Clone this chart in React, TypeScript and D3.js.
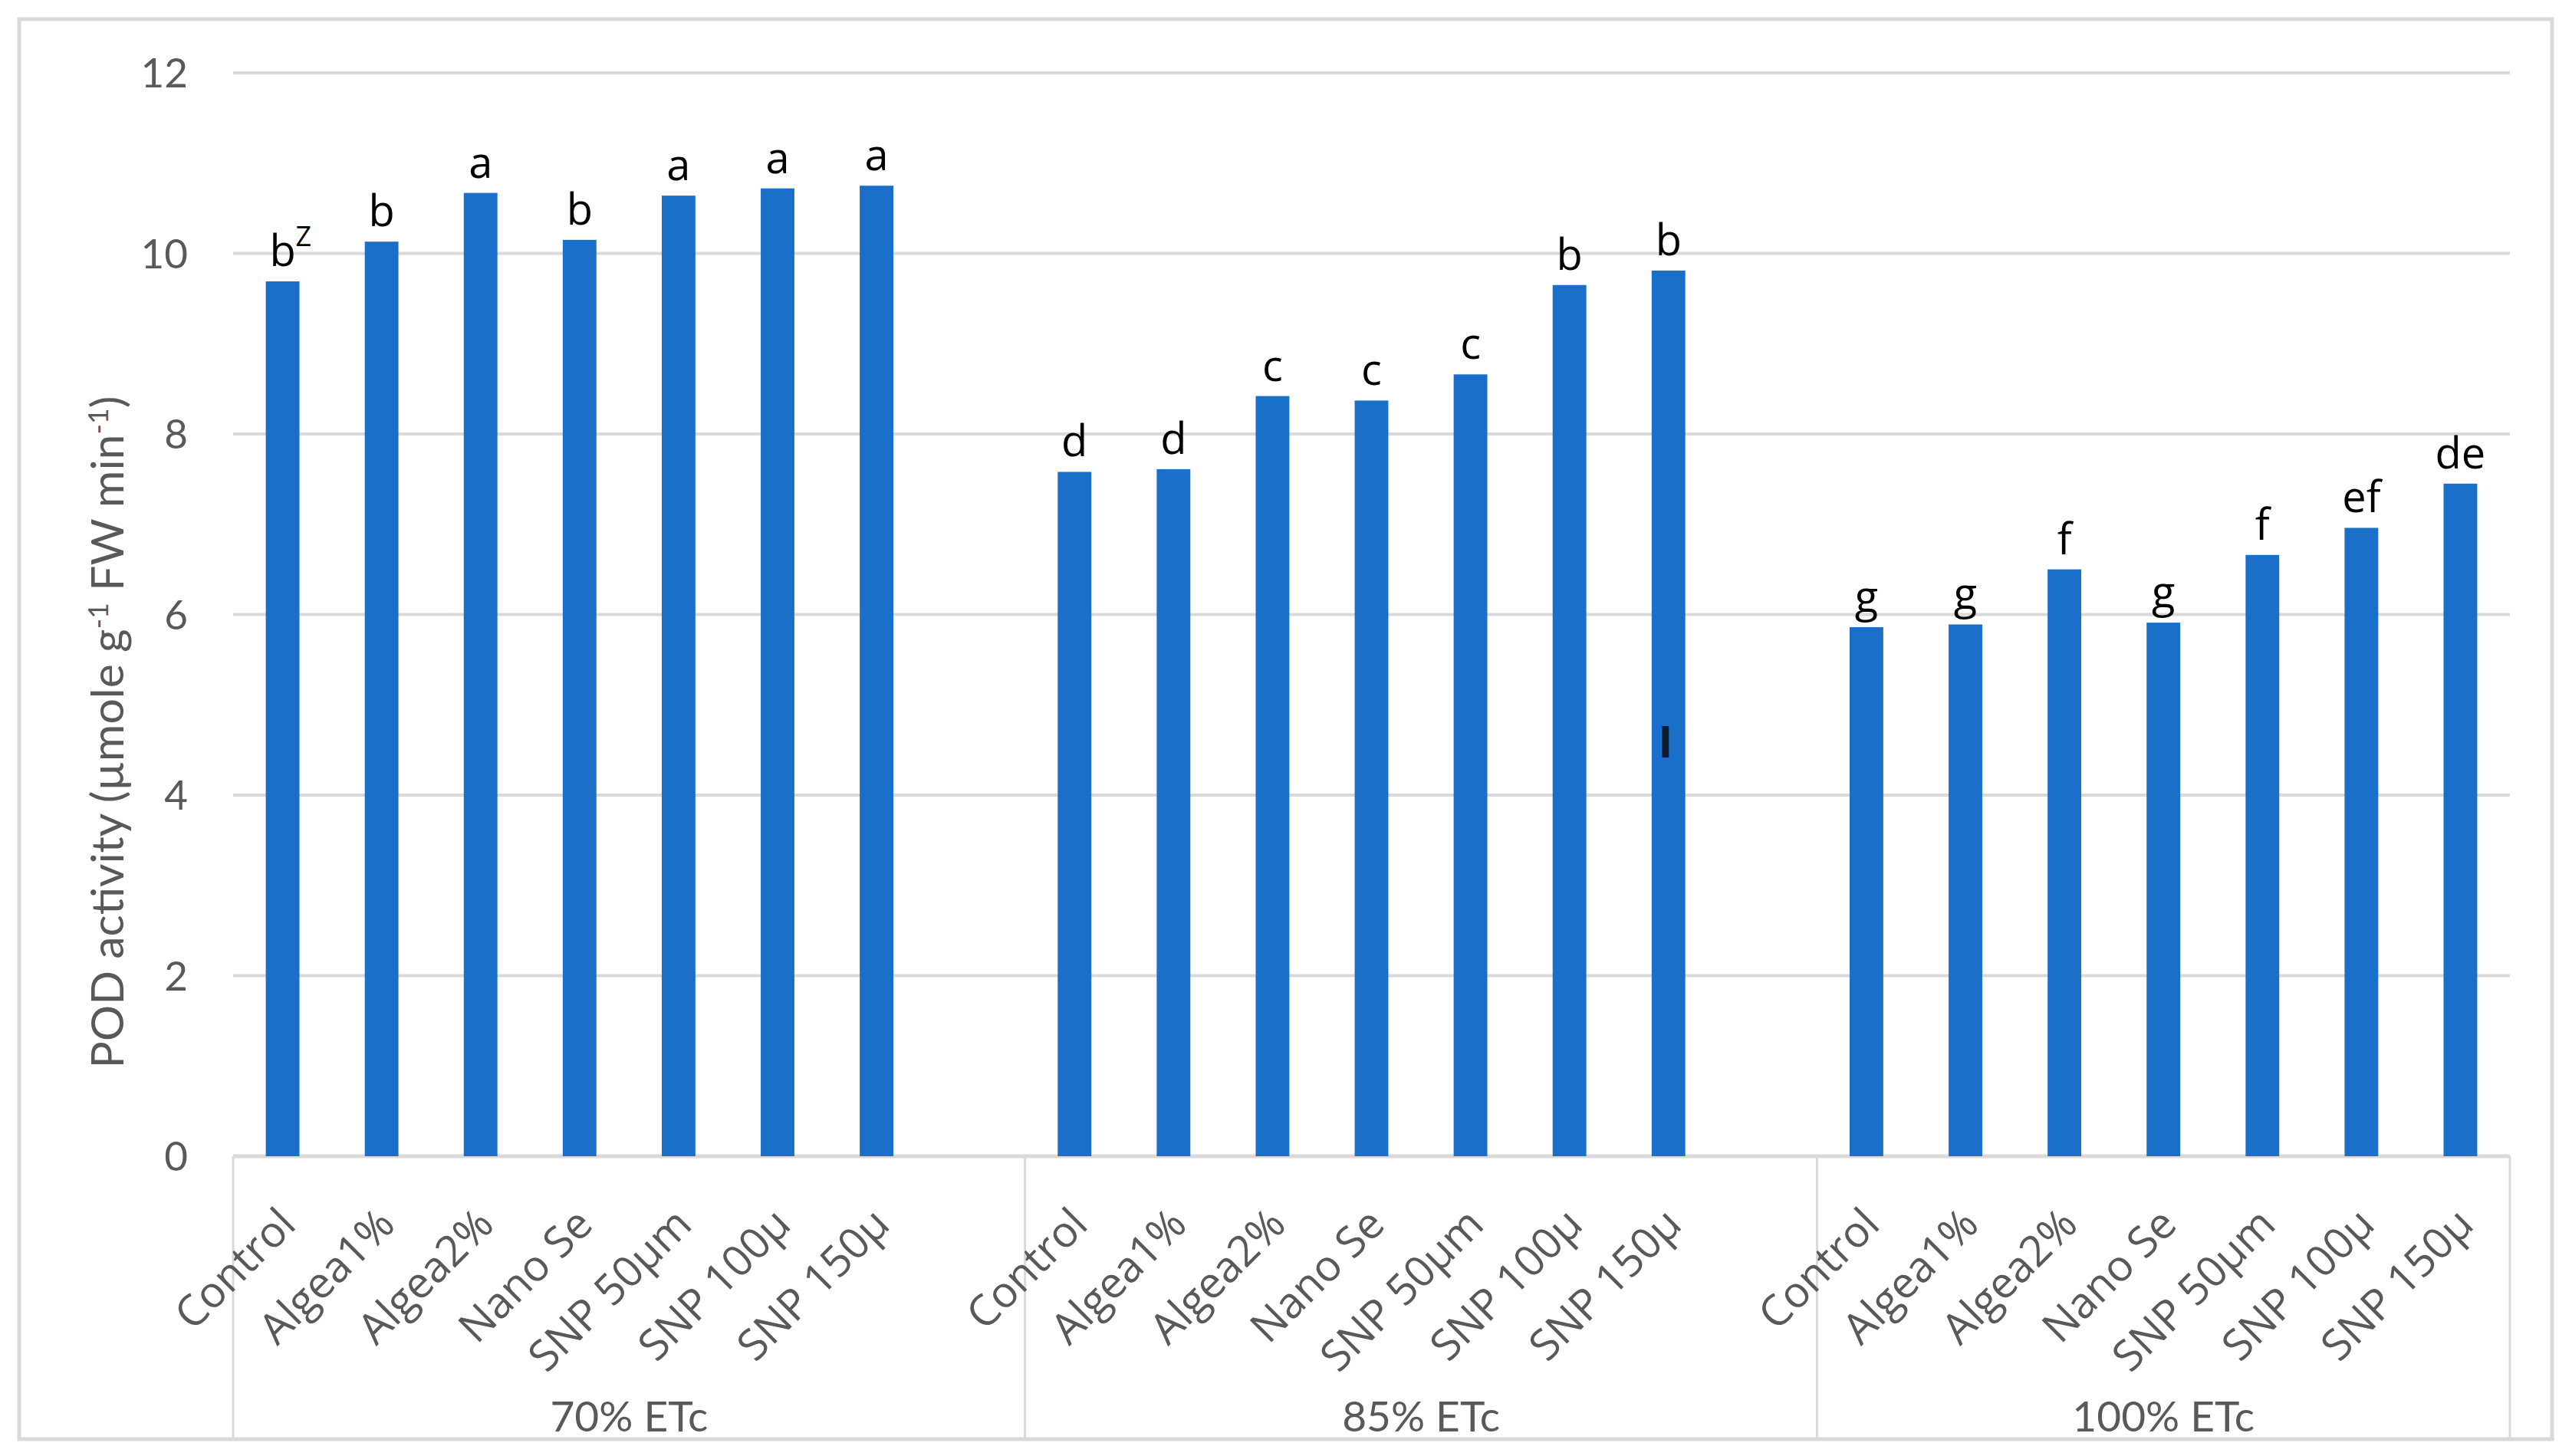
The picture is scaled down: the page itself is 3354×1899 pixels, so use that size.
import React from "react";
import * as d3 from "d3";

const GROUPS = ["70% ETc", "85% ETc", "100% ETc"];
const CATEGORIES = ["Control", "Algea1%", "Algea2%", "Nano Se", "SNP 50µm", "SNP 100µ", "SNP 150µ"];
const VALUES_70 = [9.69, 10.13, 10.67, 10.15, 10.64, 10.72, 10.75];
const VALUES_85 = [7.58, 7.61, 8.42, 8.37, 8.66, 9.65, 9.81];
const VALUES_100 = [5.86, 5.89, 6.5, 5.91, 6.66, 6.96, 7.45];
const LETTERS_70 = ["b", "b", "a", "b", "a", "a", "a"];
const LETTERS_85 = ["d", "d", "c", "c", "c", "b", "b"];
const LETTERS_100 = ["g", "g", "f", "g", "f", "ef", "de"];
const SUPERSCRIPTS_70 = ["Z", "", "", "", "", "", ""];
const Y_TICKS = [0, 2, 4, 6, 8, 10, 12];
const Y_TITLE = "POD activity (µmole g";
const STRAY_MARK = { group: 1, category: 6, value: 4.6, text: "I" };

const W = 3354;
const H = 1899;
const BLUE = "#1A70C8";
const GRID = "#D9D9D9";
const TXT = "#595959";

export default function App() {
  const valuesByGroup = [VALUES_70, VALUES_85, VALUES_100];
  const lettersByGroup = [LETTERS_70, LETTERS_85, LETTERS_100];
  const supers = [SUPERSCRIPTS_70, CATEGORIES.map(() => ""), CATEGORIES.map(() => "")];

  const keys: string[] = [];
  GROUPS.forEach((g, gi) => {
    CATEGORIES.forEach((c) => keys.push(`${g}|${c}`));
    if (gi < GROUPS.length - 1) keys.push(`${g}|__gap`);
  });

  const left = 304;
  const right = 3273;
  const x = d3.scaleBand<string>().domain(keys).range([left, right]).paddingInner(0).paddingOuter(0);
  const y = d3.scaleLinear().domain([0, 12]).range([1508, 95]);
  const bw = x.bandwidth() * 0.34;
  const axisY = y(0);

  const groupStarts = GROUPS.map((g) => x(`${g}|${CATEGORIES[0]}`)!);
  const groupEnds = GROUPS.map((g, gi) =>
    gi < GROUPS.length - 1 ? x(`${GROUPS[gi + 1]}|${CATEGORIES[0]}`)! : right
  );

  return (
    <div style={{ position: "absolute", left: 0, top: 0, width: W, height: H, background: "#fff" }}>
      <svg width={W} height={H} viewBox={`0 0 ${W} ${H}`} style={{ display: "block" }}>
        <rect x={0} y={0} width={W} height={H} fill="#fff" />
        <rect x={25} y={25} width={3303} height={1852} fill="#fff" stroke={GRID} strokeWidth={5} />

        {/* gridlines */}
        {Y_TICKS.map((t) => (
          <line key={`g${t}`} x1={left} x2={right} y1={y(t)} y2={y(t)} stroke={GRID} strokeWidth={t === 0 ? 5 : 4} />
        ))}
        {/* y tick labels */}
        {Y_TICKS.map((t) => (
          <text
            key={`t${t}`}
            x={245}
            y={y(t)}
            dy="0.36em"
            textAnchor="end"
            fontFamily="Lato, 'Open Sans', sans-serif"
            fontSize={53}
            fill={TXT}
          >
            {t}
          </text>
        ))}

        {/* group dividers */}
        {[...groupStarts, right].map((gx, i) => (
          <line key={`d${i}`} x1={gx} x2={gx} y1={axisY} y2={1877} stroke={GRID} strokeWidth={3} />
        ))}

        {/* bars */}
        {GROUPS.map((g, gi) =>
          CATEGORIES.map((c, ci) => {
            const v = valuesByGroup[gi][ci];
            const cx = x(`${g}|${c}`)! + x.bandwidth() / 2;
            return (
              <rect
                key={`b${gi}-${ci}`}
                x={cx - bw / 2}
                y={y(v)}
                width={bw}
                height={axisY - y(v)}
                fill={BLUE}
              />
            );
          })
        )}

        {/* letters */}
        {GROUPS.map((g, gi) =>
          CATEGORIES.map((c, ci) => {
            const v = valuesByGroup[gi][ci];
            const cx = x(`${g}|${c}`)! + x.bandwidth() / 2;
            const sup = supers[gi][ci];
            return (
              <g key={`l${gi}-${ci}`}>
                <text
                  x={cx}
                  y={y(v) - 20}
                  textAnchor="middle"
                  fontFamily="'Open Sans', sans-serif"
                  fontSize={56}
                  fill="#000"
                >
                  {lettersByGroup[gi][ci]}
                </text>
                {sup && (
                  <text
                    x={cx + 17}
                    y={y(v) - 46}
                    textAnchor="start"
                    fontFamily="'Open Sans', sans-serif"
                    fontSize={36}
                    fill="#000"
                  >
                    {sup}
                  </text>
                )}
              </g>
            );
          })
        )}

        {/* stray mark */}
        <text
          x={x(`${GROUPS[STRAY_MARK.group]}|${CATEGORIES[STRAY_MARK.category]}`)! + x.bandwidth() / 2 - 4}
          y={y(STRAY_MARK.value) + 22}
          textAnchor="middle"
          fontFamily="'Open Sans', sans-serif"
          fontWeight={700}
          fontSize={58}
          fill="#0d1b2a"
        >
          {STRAY_MARK.text}
        </text>

        {/* category labels */}
        {GROUPS.map((g, gi) =>
          CATEGORIES.map((c, ci) => {
            const cx = x(`${g}|${c}`)! + x.bandwidth() / 2;
            const ax = cx + 20;
            const ay = axisY + 92;
            return (
              <text
                key={`c${gi}-${ci}`}
                transform={`translate(${ax},${ay}) rotate(-45)`}
                textAnchor="end"
                fontFamily="'Open Sans', sans-serif"
                fontSize={56}
                fill={TXT}
              >
                {c}
              </text>
            );
          })
        )}

        {/* group labels */}
        {GROUPS.map((g, gi) => (
          <text
            key={`gl${gi}`}
            x={(groupStarts[gi] + groupEnds[gi]) / 2}
            y={1867}
            textAnchor="middle"
            fontFamily="Lato, 'Open Sans', sans-serif"
            fontSize={55}
            fill={TXT}
          >
            {g}
          </text>
        ))}

        {/* y axis title */}
        <text
          transform={`translate(140,955) rotate(-90)`}
          textAnchor="middle"
          dy="0.35em"
          fontFamily="Lato, 'Open Sans', sans-serif"
          fontSize={59}
          fill={TXT}
        >
          {Y_TITLE}
          <tspan dy={-20} fontSize={36}>-1</tspan>
          <tspan dy={20}> FW min</tspan>
          <tspan dy={-20} fontSize={36}>-1</tspan>
          <tspan dy={20}>)</tspan>
        </text>
      </svg>
    </div>
  );
}
